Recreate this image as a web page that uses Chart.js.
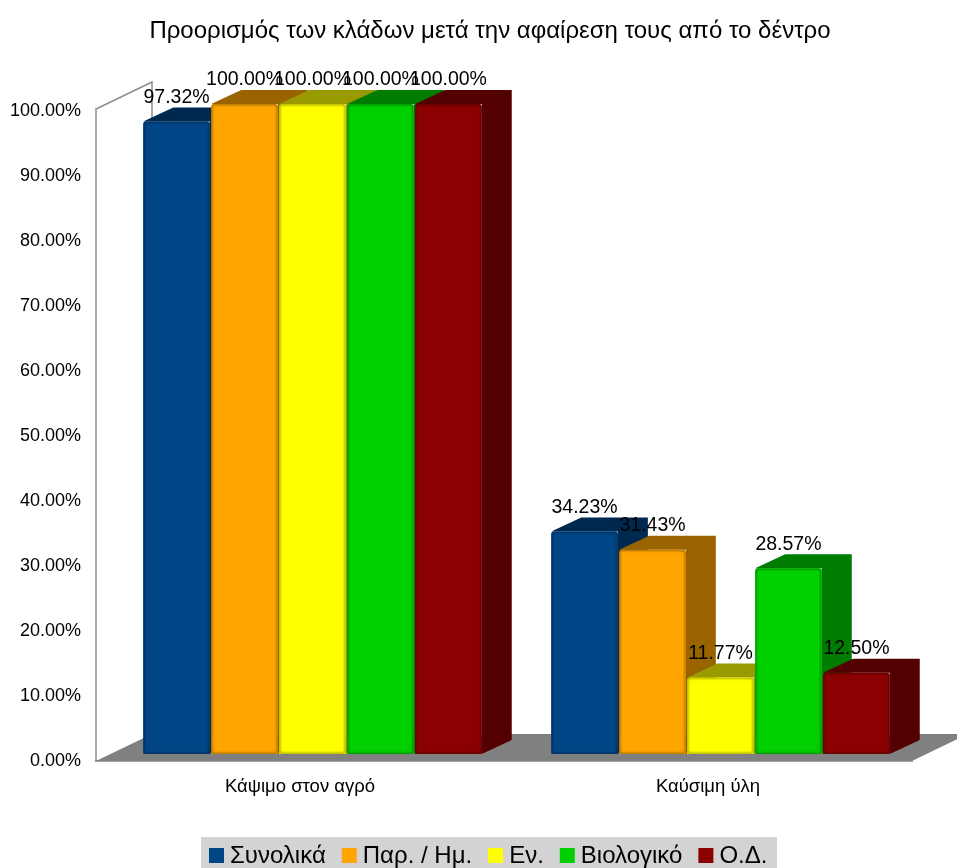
<!DOCTYPE html>
<html>
<head>
<meta charset="utf-8">
<title>Προορισμός των κλάδων</title>
<script src="https://cdn.jsdelivr.net/npm/chart.js@4/dist/chart.umd.min.js"></script>
<style>
  html, body { margin: 0; padding: 0; background: #fff; }
  #wrap { width: 957px; height: 868px; overflow: hidden; }
</style>
</head>
<body>
<div id="wrap"><canvas id="chart" width="957" height="868"></canvas></div>
<script>
var chartTitle = "Προορισμός των κλάδων μετά την αφαίρεση τους από το δέντρο";
var categories = ["Κάψιμο στον αγρό", "Καύσιμη ύλη"];
var seriesNames = ["Συνολικά", "Παρ. / Ημ.", "Εν.", "Βιολογικό", "Ο.Δ."];
var synolika = [97.32, 34.23];
var parIm = [100, 31.43];
var en = [100, 11.77];
var viologiko = [100, 28.57];
var od = [100, 12.5];
var seriesColors = ["#004586", "#ffa500", "#ffff00", "#00d000", "#8b0000"];

var font = "'Liberation Sans', Arial, sans-serif";

function shade(hex, f) {
    var n = parseInt(hex.slice(1), 16);
    var r = Math.round((n >> 16) * f), g = Math.round(((n >> 8) & 255) * f), b = Math.round((n & 255) * f);
    return "rgb(" + r + "," + g + "," + b + ")";
}

// fake 3d: floor + wall, then each bar gets a top and a side face.
// bars have to go left to right so the later ones cover the earlier sides
var box3d = {
    id: "box3d",
    afterLayout: function(chart) {
        // title is centred over the plot, not over the whole canvas
        chart.titleBlock.left = 68;
    },
    beforeDatasetsDraw: function(chart) {
        var ctx = chart.ctx, a = chart.chartArea;
        var wallX = 56, wallY = 27;
        var depthX = 30, depthY = 14;
        var shiftX = 12.5, shiftY = -7;

        ctx.save();
        ctx.fillStyle = "#808080";
        ctx.beginPath();
        ctx.moveTo(a.left, a.bottom);
        ctx.lineTo(a.left + wallX, a.bottom - wallY);
        ctx.lineTo(a.right + wallX, a.bottom - wallY);
        ctx.lineTo(a.right, a.bottom);
        ctx.closePath();
        ctx.fill();

        ctx.strokeStyle = "#8c8c8c";
        ctx.lineWidth = 1.5;
        ctx.beginPath();
        ctx.moveTo(a.left, a.bottom);
        ctx.lineTo(a.left, a.top - 2);
        ctx.lineTo(a.left + wallX, a.top - 2 - wallY);
        ctx.lineTo(a.left + wallX, a.bottom - wallY);
        ctx.stroke();
        ctx.restore();

        ctx.save();
        ctx.translate(shiftX, shiftY);
        chart.data.datasets.forEach(function(ds, d) {
            var meta = chart.getDatasetMeta(d);
            meta.data.forEach(function(bar) {
                var left = bar.x - bar.width / 2, right = bar.x + bar.width / 2;
                ctx.fillStyle = shade(seriesColors[d], 0.6);
                ctx.beginPath();
                ctx.moveTo(left, bar.y);
                ctx.lineTo(left + depthX, bar.y - depthY);
                ctx.lineTo(right + depthX, bar.y - depthY);
                ctx.lineTo(right + depthX, bar.base - depthY);
                ctx.lineTo(right, bar.base);
                ctx.lineTo(right, bar.y);
                ctx.closePath();
                ctx.fill();
                bar.draw(ctx);

                // soft dark rim on the front face
                ctx.save();
                ctx.beginPath();
                ctx.roundRect(left, bar.y, bar.width, bar.base - bar.y, 3);
                ctx.clip();
                ctx.filter = "blur(1px)";
                ctx.strokeStyle = shade(seriesColors[d], 0.65);
                ctx.lineWidth = 2.5;
                ctx.beginPath();
                ctx.roundRect(left, bar.y, bar.width, bar.base - bar.y, 3);
                ctx.stroke();
                ctx.restore();
            });
        });

        // value labels sit on top of everything
        ctx.fillStyle = "#000";
        ctx.font = "19.5px " + font;
        ctx.textAlign = "center";
        ctx.textBaseline = "middle";
        chart.data.datasets.forEach(function(ds, d) {
            chart.getDatasetMeta(d).data.forEach(function(bar, i) {
                ctx.fillText(ds.data[i].toFixed(2) + "%", bar.x, bar.y - 24);
            });
        });
        ctx.restore();
        return false;
    },
    afterDraw: function(chart) {
        var ctx = chart.ctx;
        var x = 209, y = 855.5;

        ctx.save();
        ctx.fillStyle = "#d3d3d3";
        ctx.fillRect(201, 837, 576, 31);
        ctx.font = "24px " + font;
        ctx.textBaseline = "middle";
        chart.data.datasets.forEach(function(ds) {
            ctx.fillStyle = ds.backgroundColor;
            ctx.fillRect(x, y - 7.5, 15, 15);
            ctx.fillStyle = "#000";
            ctx.fillText(ds.label, x + 21, y + 1);
            x += 21 + ctx.measureText(ds.label).width + 16;
        });
        ctx.restore();
    }
};

var seriesValues = [synolika, parIm, en, viologiko, od];

new Chart(document.getElementById("chart"), {
    type: "bar",
    data: {
        labels: categories,
        datasets: seriesNames.map(function(name, i) {
            return {
                label: name,
                data: seriesValues[i],
                backgroundColor: seriesColors[i],
                borderWidth: 0,
                borderRadius: 3,
                categoryPercentage: 0.833,
                barPercentage: 0.98
            };
        })
    },
    options: {
        responsive: false,
        animation: false,
        layout: { padding: { left: 0, right: 45, top: 0, bottom: 0 } },
        plugins: {
            legend: { display: false },
            tooltip: { enabled: false },
            title: {
                display: true,
                text: chartTitle,
                color: "#000",
                font: { family: font, size: 24, weight: "normal" },
                padding: { top: 17, bottom: 65.2 }
            }
        },
        scales: {
            x: {
                grid: { display: false, drawTicks: false },
                border: { color: "#a0a0a0", width: 2 },
                afterFit: function(s) { s.height = 107; },
                ticks: { color: "#000", padding: 15, font: { family: font, size: 18.5 } }
            },
            y: {
                min: 0,
                max: 100,
                grid: { display: false, drawTicks: false },
                border: { display: false },
                afterFit: function(s) { s.width = 96; },
                ticks: {
                    color: "#000",
                    stepSize: 10,
                    padding: 15,
                    font: { family: font, size: 18 },
                    callback: function(v) { return v.toFixed(2) + "%"; }
                }
            }
        }
    },
    plugins: [box3d]
});
</script>
</body>
</html>
